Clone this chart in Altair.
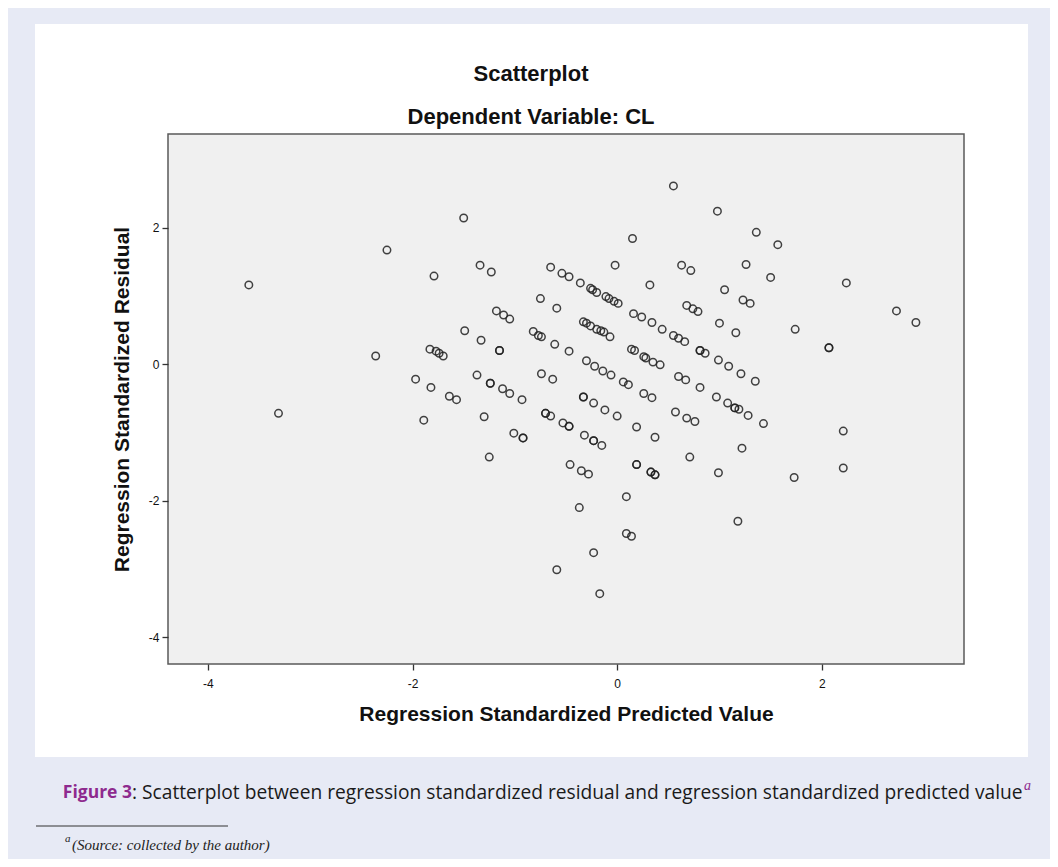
import altair as alt
import pandas as pd

# ---- data (standardized predicted value, standardized residual) ----
pred = [
    -3.60, -3.31, -2.25, -2.36, -1.79, -1.50, -1.89, -1.97, -1.82,
    0.55, 0.98, 1.36, 1.57, 1.26, 1.50, 2.24, 2.73, 2.92, 1.74, 2.07, 2.07,
    2.21, 2.21, 1.73, 1.18,
    -0.59, -0.17, -0.23, -0.37, 0.09, 0.09, 0.14,
    0.15, -0.02, 0.32, 0.63, 0.72,
    -1.34, -1.23, -0.65, -0.54, -0.47,
    -0.36, -0.26, -0.24, -0.20, -0.11, -0.08, -0.03, 0.01,
    -0.75, -0.59,
    -1.18, -1.11, -1.05,
    -1.49, -1.33,
    -1.83, -1.77, -1.74, -1.70,
    -1.15, -1.15,
    -0.82, -0.77, -0.74, -0.61, -0.47,
    -0.33, -0.30, -0.26, -0.20, -0.16, -0.13, -0.07,
    0.16, 0.24, 0.34, 0.44,
    0.68, 0.74, 0.79,
    1.05, 1.23, 1.30, 1.00, 1.16,
    0.55, 0.60, 0.66,
    0.14, 0.17, 0.26, 0.28, 0.35, 0.42,
    0.81, 0.81, 0.86, 0.99, 1.09, 1.21, 1.35,
    -0.30, -0.22, -0.14, -0.06, 0.06, 0.11,
    -1.37, -1.24, -1.24, -1.12, -1.05, -0.93,
    -0.74, -0.63,
    -1.64, -1.57,
    0.60, 0.67, 0.81,
    0.26, 0.34,
    -0.33, -0.33, -0.23, -0.12, 0.00,
    -1.30, -1.01, -0.92, -0.92, -1.25,
    -0.70, -0.70, -0.65, -0.53, -0.47, -0.47,
    -0.32, -0.23, -0.23, -0.15,
    -0.46, -0.35, -0.28,
    0.19, 0.37,
    0.19, 0.19, 0.33, 0.33, 0.37, 0.37,
    0.57, 0.68, 0.76, 0.71,
    0.97, 1.08, 1.15, 1.15, 1.19, 1.28, 1.43,
    1.22, 0.99,
]
resid = [
    1.16, -0.72, 1.67, 0.12, 1.29, 2.14, -0.82, -0.22, -0.34,
    2.61, 2.24, 1.93, 1.75, 1.46, 1.27, 1.19, 0.78, 0.61, 0.51, 0.24, 0.24,
    -0.98, -1.52, -1.66, -2.30,
    -3.01, -3.36, -2.76, -2.10, -1.94, -2.48, -2.52,
    1.84, 1.45, 1.16, 1.45, 1.37,
    1.45, 1.35, 1.42, 1.33, 1.28,
    1.19, 1.11, 1.09, 1.05, 0.99, 0.96, 0.92, 0.89,
    0.96, 0.82,
    0.78, 0.72, 0.66,
    0.49, 0.35,
    0.22, 0.19, 0.16, 0.12,
    0.20, 0.20,
    0.48, 0.42, 0.40, 0.29, 0.19,
    0.62, 0.60, 0.56, 0.51, 0.49, 0.47, 0.40,
    0.74, 0.69, 0.61, 0.51,
    0.86, 0.81, 0.77,
    1.09, 0.94, 0.89, 0.60, 0.46,
    0.42, 0.38, 0.33,
    0.22, 0.20, 0.11, 0.09, 0.03, -0.01,
    0.20, 0.20, 0.16, 0.06, -0.03, -0.14, -0.25,
    0.05, -0.03, -0.10, -0.16, -0.26, -0.30,
    -0.16, -0.28, -0.28, -0.36, -0.43, -0.52,
    -0.14, -0.22,
    -0.47, -0.52,
    -0.18, -0.23, -0.34,
    -0.43, -0.49,
    -0.48, -0.48, -0.57, -0.67, -0.76,
    -0.77, -1.01, -1.08, -1.08, -1.36,
    -0.72, -0.72, -0.76, -0.86, -0.91, -0.91,
    -1.04, -1.12, -1.12, -1.19,
    -1.47, -1.56, -1.61,
    -0.92, -1.07,
    -1.47, -1.47, -1.58, -1.58, -1.62, -1.62,
    -0.70, -0.79, -0.84, -1.36,
    -0.48, -0.57, -0.64, -0.64, -0.66, -0.75, -0.87,
    -1.23, -1.59,
]

x_ticks = [-4, -2, 0, 2]
y_ticks = [-4, -2, 0, 2]
x_domain = [-4.39, 3.39]
y_domain = [-4.39, 3.37]

title_1 = "Scatterplot"
title_2 = "Dependent Variable: CL"
x_title = "Regression Standardized Predicted Value"
y_title = "Regression Standardized Residual"
cap_label = "Figure 3"
cap_text = ": Scatterplot between regression standardized residual and regression standardized predicted value"
cap_sup = "a"
foot_sup = "a"
foot_text = "(Source: collected by the author)"

W, H = 796, 530
PURPLE = "#8e2a8e"
SANS = "Liberation Sans"
CAP_FONT = "Open Sans"

df = pd.DataFrame({"pred": pred, "resid": resid})
one = pd.DataFrame({"k": [0]})

panel = alt.Chart(one).mark_rect(fill="white", clip=False).encode(
    x=alt.value(-133), x2=alt.value(860), y=alt.value(-110), y2=alt.value(623)
)
plot_bg = alt.Chart(one).mark_rect(fill="#f0f0f0", stroke="#5a5a5a", strokeWidth=1.5).encode(
    x=alt.value(0), x2=alt.value(W), y=alt.value(0), y2=alt.value(H)
)

axis_common = dict(
    grid=False, domain=False, ticks=True, tickSize=6, tickColor="#333", tickWidth=1.3,
    labelFont=SANS, labelFontSize=12, labelColor="#111",
    labelExpr="toString(datum.value)",
    titleFont=SANS, titleFontSize=21, titleFontWeight="bold", titleColor="#111",
    zindex=1,
)

points = alt.Chart(df).mark_point(
    shape="circle", filled=False, size=56, strokeWidth=1.5, color="#222222", opacity=0.85
).encode(
    x=alt.X("pred:Q", scale=alt.Scale(domain=x_domain, nice=False, zero=False),
            axis=alt.Axis(values=x_ticks, title=x_title, labelPadding=8, titlePadding=14, **axis_common)),
    y=alt.Y("resid:Q", scale=alt.Scale(domain=y_domain, nice=False, zero=False),
            axis=alt.Axis(values=y_ticks, title=y_title, labelPadding=3, titlePadding=16, **axis_common)),
)


def txt(text, x, y, **kw):
    return alt.Chart(one).mark_text(text=text, clip=False, **kw).encode(
        x=alt.value(x), y=alt.value(y)
    )


t1 = txt(title_1, 363, -60, font=SANS, fontSize=22, fontWeight="bold", color="#111", align="center", baseline="middle")
t2 = txt(title_2, 363, -17, font=SANS, fontSize=22, fontWeight="bold", color="#111", align="center", baseline="middle")
c1 = txt(cap_label, -36, 659, font=CAP_FONT, fontSize=17.5, fontWeight="bold", color=PURPLE, align="right", baseline="middle")
c2 = txt(cap_text, -36, 659, font=CAP_FONT, fontSize=19.2, color="#1a1a1a", align="left", baseline="middle")
c3 = txt(cap_sup, 856, 652, font="Liberation Serif", fontSize=14, fontStyle="italic", color=PURPLE, align="left", baseline="middle")
rule = alt.Chart(one).mark_rule(color="#333", strokeWidth=1).encode(
    x=alt.value(-132), x2=alt.value(60), y=alt.value(692)
)
f1 = txt(foot_sup, -103, 705, font="Liberation Serif", fontSize=11, fontStyle="italic", color="#222", align="left", baseline="middle")
f2 = txt(foot_text, -96, 711, font="Liberation Serif", fontSize=15, fontStyle="italic", color="#222", align="left", baseline="middle")

chart = alt.layer(panel, plot_bg, points, t1, t2, c1, c2, c3, rule, f1, f2).properties(
    width=W, height=H,
    padding={"left": 160, "top": 126, "right": 86, "bottom": 195},
    autosize=alt.AutoSizeParams(type="none"),
).configure(background="#e7eaf5").configure_view(stroke=None)

chart.save("out.html", embed_options={"renderer": "svg", "actions": False})
